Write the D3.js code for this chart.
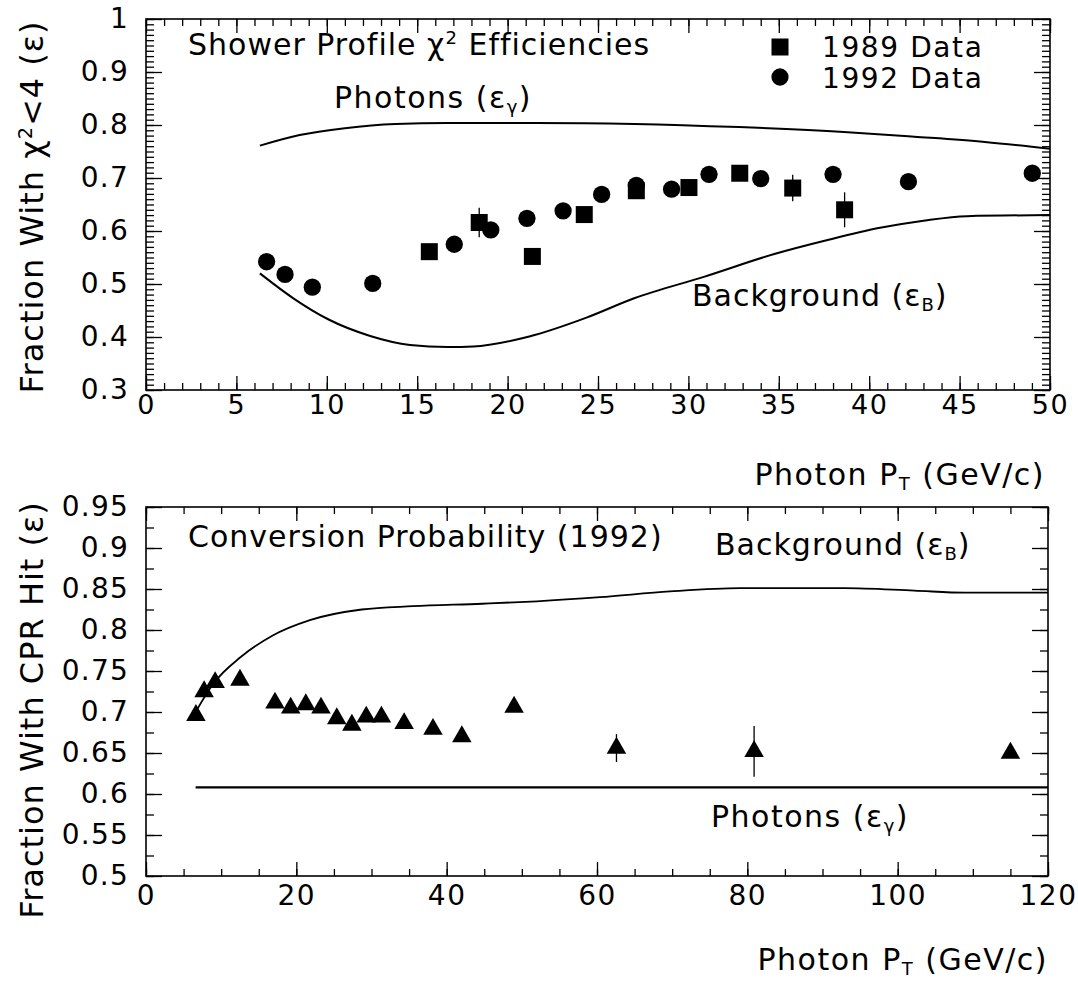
<!DOCTYPE html>
<html>
<head>
<meta charset="utf-8" />
<title>Shower Profile and CPR efficiencies</title>
<style>
html, body {
    margin: 0;
    padding: 0;
    background: #fff;
}
#chart {
    width: 1078px;
    height: 981px;
}
text {
    font-family: "DejaVu Sans", "Liberation Sans", sans-serif;
    fill: #000;
}
</style>
</head>
<body>
<div id="chart"></div>
<script src="https://d3js.org/d3.v7.min.js"></script>
<script>
// ---- top panel : shower profile chi2 < 4 efficiencies ----
var pt89  = [15.67, 18.43, 21.37, 24.24, 27.12, 30.03, 32.84, 35.77, 38.64]
var eff89 = [0.561, 0.616, 0.552, 0.631, 0.676, 0.682, 0.709, 0.681, 0.640]
var err89 = [0.010, 0.028, 0.010, 0.010, 0.010, 0.010, 0.010, 0.025, 0.033]

var pt92  = [6.67, 7.69, 9.2, 12.54, 17.05, 19.07, 21.07, 23.07, 25.2, 27.12, 29.07, 31.14, 34.0, 38.0, 42.17, 49.02]
var eff92 = [0.542, 0.518, 0.494, 0.501, 0.575, 0.602, 0.624, 0.638, 0.669, 0.686, 0.679, 0.707, 0.699, 0.707, 0.693, 0.709]

// expected efficiency curves (photons / background)
var photonCurvePt  = [6.3, 8.5, 11, 13.8, 16.7, 21.5, 27, 32.8, 38.6, 42.5, 46.4, 50]
var photonCurveEff = [0.761, 0.781, 0.794, 0.802, 0.804, 0.804, 0.802, 0.796, 0.787, 0.778, 0.768, 0.755]
var bgCurvePt  = [6.3, 8.15, 10.1, 12.4, 14.6, 16.7, 18.1, 21.2, 24.4, 27.0, 30.9, 34.8, 37.7, 40.6, 43.1, 45.4, 50]
var bgCurveEff = [0.520, 0.473, 0.433, 0.402, 0.385, 0.381, 0.382, 0.401, 0.437, 0.473, 0.514, 0.557, 0.583, 0.606, 0.620, 0.628, 0.630]

// ---- bottom panel : conversion probability (1992) ----
var ptCpr  = [6.64, 7.73, 9.2, 12.5, 17.16, 19.25, 21.26, 23.28, 25.38, 27.39, 29.3, 31.32, 34.34, 38.18, 42.02, 48.97, 62.59, 80.9, 115.0]
var effCpr = [0.696, 0.725, 0.736, 0.739, 0.711, 0.705, 0.709, 0.705, 0.692, 0.684, 0.694, 0.694, 0.686, 0.679, 0.670, 0.706, 0.656, 0.652, 0.650]
var errCpr = [0, 0, 0, 0, 0, 0, 0, 0, 0, 0, 0, 0, 0, 0, 0, 0, 0.017, 0.031, 0.004]

var cprBgPt  = [6.6, 9.0, 12.6, 16.8, 21.8, 28.7, 35.5, 44.7, 52, 60.4, 69.7, 79, 92.9, 102.2, 109, 120]
var cprBgEff = [0.700, 0.735, 0.767, 0.793, 0.812, 0.825, 0.829, 0.832, 0.835, 0.840, 0.847, 0.851, 0.851, 0.848, 0.8455, 0.8455]
var cprPhPt  = [6.6, 120]
var cprPhEff = [0.608, 0.608]

// tick labels
var topYTicks = [0.3, 0.4, 0.5, 0.6, 0.7, 0.8, 0.9, 1]
var topXTicks = [0, 5, 10, 15, 20, 25, 30, 35, 40, 45, 50]
var botYTicks = [0.5, 0.55, 0.6, 0.65, 0.7, 0.75, 0.8, 0.85, 0.9, 0.95]
var botXTicks = [0, 20, 40, 60, 80, 100, 120]

!(function(){
    "use strict"

    var width = 1078, height = 981
    var svg = d3.select("#chart").append("svg")
        .attr("width", width)
        .attr("height", height)

    var fmt = function(d){ return String(+d.toFixed(2)) }

    // scales
    var xTop = d3.scaleLinear().domain([0, 50]).range([146, 1050])
    var yTop = d3.scaleLinear().domain([0.3, 1]).range([390, 19])
    var xBot = d3.scaleLinear().domain([0, 120]).range([146, 1048])
    var yBot = d3.scaleLinear().domain([0.5, 0.95]).range([876, 507])

    drawFrame(xTop, yTop, {
        xMajor: topXTicks, xMinor: d3.range(0, 51),
        yMajor: topYTicks, yMinor: d3.range(30, 101).map(function(d){ return d / 100 }),
        xFont: 27, xPad: 5
    })
    drawFrame(xBot, yBot, {
        xMajor: botXTicks, xMinor: d3.range(0, 121, 5),
        yMajor: botYTicks, yMinor: d3.range(0, 19).map(function(d){ return 0.5 + d * 0.025 }),
        xFont: 28, xPad: 9
    })

    var line = function(x, y){
        return d3.line()
            .x(function(d){ return x(d[0]) })
            .y(function(d){ return y(d[1]) })
            .curve(d3.curveMonotoneX)
    }

    // curves
    svg.append("path")
        .datum(d3.zip(photonCurvePt, photonCurveEff))
        .attr("d", line(xTop, yTop))
        .attr("fill", "none").attr("stroke", "#000").attr("stroke-width", 2)
    svg.append("path")
        .datum(d3.zip(bgCurvePt, bgCurveEff))
        .attr("d", line(xTop, yTop))
        .attr("fill", "none").attr("stroke", "#000").attr("stroke-width", 2)
    svg.append("path")
        .datum(d3.zip(cprBgPt, cprBgEff))
        .attr("d", line(xBot, yBot))
        .attr("fill", "none").attr("stroke", "#000").attr("stroke-width", 1.8)
    svg.append("path")
        .datum(d3.zip(cprPhPt, cprPhEff))
        .attr("d", line(xBot, yBot))
        .attr("fill", "none").attr("stroke", "#000").attr("stroke-width", 2.2)

    // markers
    drawPoints(xTop, yTop, pt89, eff89, err89, d3.symbolSquare, 289)
    drawPoints(xTop, yTop, pt92, eff92, null, d3.symbolCircle, 235)
    drawPoints(xBot, yBot, ptCpr, effCpr, errCpr, d3.symbolTriangle, 165)

    // legend (top panel)
    svg.append("path")
        .attr("d", d3.symbol().type(d3.symbolSquare).size(289))
        .attr("transform", "translate(780,47)")
    svg.append("path")
        .attr("d", d3.symbol().type(d3.symbolCircle).size(235))
        .attr("transform", "translate(780,77)")
    rich(822, 57, [["1989 Data"]], 28, null, null, 1.6)
    rich(822, 88, [["1992 Data"]], 28, null, null, 1.6)

    // labels inside panels
    rich(188, 55, [["Shower Profile "], ["\u03C7"], ["2", -11, 0.6], [" Efficiencies", 0]], 30)
    rich(334, 108, [["Photons (\u03B5"], ["\u03B3", 5, 0.6], [")", 0]], 30, null, null, 1.5)
    rich(692, 306, [["Background (\u03B5"], ["B", 5, 0.6], [")", 0]], 30)
    rich(188, 547, [["Conversion Probability (1992)"]], 30, "#222")
    rich(715, 555, [["Background (\u03B5"], ["B", 5, 0.6], [")", 0]], 30)
    rich(711, 827, [["Photons (\u03B5"], ["\u03B3", 5, 0.6], [")", 0]], 30, null, null, 1.5)

    // x axis titles
    rich(1045, 485, [["Photon P"], ["T", 5, 0.6], ["  (GeV/c)", 0]], 30, null, "end", 1.5)
    rich(1048, 970, [["Photon P"], ["T", 5, 0.6], ["  (GeV/c)", 0]], 30, null, "end", 1.5)

    // y axis titles
    var t1 = rich(0, 0, [["Fraction With "], ["\u03C7"], ["2", -11, 0.6], ["<4  (\u03B5)", 0]], 32, null, "middle")
    t1.attr("transform", "translate(43,207) rotate(-90)")
    var t2 = rich(0, 0, [["Fraction With CPR Hit (\u03B5)"]], 32, null, "middle")
    t2.attr("transform", "translate(43,710) rotate(-90)")

    function drawFrame(x, y, o) {
        var g = svg.append("g").attr("class", "frame")
        var x0 = x.range()[0], x1 = x.range()[1]
        var y0 = y.range()[0], y1 = y.range()[1]

        // bottom: labelled major ticks + minor ticks, all pointing inward
        g.append("g")
            .attr("transform", "translate(0," + y0 + ")")
            .call(d3.axisBottom(x).tickValues(o.xMinor).tickSize(-7).tickFormat(""))
        g.append("g")
            .attr("class", "xlab")
            .attr("transform", "translate(0," + y0 + ")")
            .call(d3.axisBottom(x).tickValues(o.xMajor).tickSize(-14).tickPadding(o.xPad).tickFormat(fmt))
        // top edge
        g.append("g")
            .attr("transform", "translate(0," + y1 + ")")
            .call(d3.axisTop(x).tickValues(o.xMinor).tickSize(-7).tickFormat(""))
        g.append("g")
            .attr("transform", "translate(0," + y1 + ")")
            .call(d3.axisTop(x).tickValues(o.xMajor).tickSize(-14).tickFormat(""))
        // left
        g.append("g")
            .attr("transform", "translate(" + x0 + ",0)")
            .call(d3.axisLeft(y).tickValues(o.yMinor).tickSize(-8).tickFormat(""))
        g.append("g")
            .attr("class", "ylab")
            .attr("transform", "translate(" + x0 + ",0)")
            .call(d3.axisLeft(y).tickValues(o.yMajor).tickSize(-16).tickPadding(17).tickFormat(fmt))
        // right
        g.append("g")
            .attr("transform", "translate(" + x1 + ",0)")
            .call(d3.axisRight(y).tickValues(o.yMinor).tickSize(-8).tickFormat(""))
        g.append("g")
            .attr("transform", "translate(" + x1 + ",0)")
            .call(d3.axisRight(y).tickValues(o.yMajor).tickSize(-16).tickFormat(""))

        g.selectAll(".domain").remove()
        g.selectAll(".tick line").attr("stroke", "#000").attr("stroke-width", 1.3)
        g.selectAll(".xlab").attr("font-size", o.xFont).attr("font-family", "DejaVu Sans")
        g.selectAll(".xlab text").attr("font-size", o.xFont).attr("letter-spacing", 1.5).attr("fill", "#000")
        g.selectAll(".ylab").attr("font-size", 28).attr("font-family", "DejaVu Sans")
        g.selectAll(".ylab text").attr("font-size", 28).attr("letter-spacing", 1.2).attr("fill", "#000")

        g.append("rect")
            .attr("x", x0).attr("y", y1)
            .attr("width", x1 - x0).attr("height", y0 - y1)
            .attr("fill", "none")
            .attr("stroke", "#000")
            .attr("stroke-width", 1.6)
    }

    function drawPoints(x, y, xs, ys, errs, type, size) {
        var pts = xs.map(function(d, i){ return { x: d, y: ys[i], e: errs ? errs[i] : 0 } })
        var g = svg.append("g")
        g.selectAll("line")
            .data(pts.filter(function(d){ return d.e > 0 }))
            .enter().append("line")
            .attr("x1", function(d){ return x(d.x) })
            .attr("x2", function(d){ return x(d.x) })
            .attr("y1", function(d){ return y(d.y - d.e) })
            .attr("y2", function(d){ return y(d.y + d.e) })
            .attr("stroke", "#000")
            .attr("stroke-width", 1.3)
        g.selectAll("path")
            .data(pts)
            .enter().append("path")
            .attr("d", d3.symbol().type(type).size(size))
            .attr("transform", function(d){ return "translate(" + x(d.x) + "," + y(d.y) + ")" })
            .attr("fill", "#000")
    }

    // text made of pieces: [string, shift(px, optional), scale(optional)]
    function rich(x, y, pieces, size, color, anchor, spacing) {
        var t = svg.append("text")
            .attr("x", x).attr("y", y)
            .attr("font-size", size)
            .attr("letter-spacing", spacing == null ? 1 : spacing)
            .attr("text-anchor", anchor || "start")
            .attr("fill", color || "#000")
        var prev = 0
        pieces.forEach(function(p){
            var shift = p[1] || 0
            t.append("tspan")
                .attr("dy", shift - prev)
                .attr("font-size", size * (p[2] || 1))
                .text(p[0])
            prev = shift
        })
        return t
    }
}());
</script>
</body>
</html>
